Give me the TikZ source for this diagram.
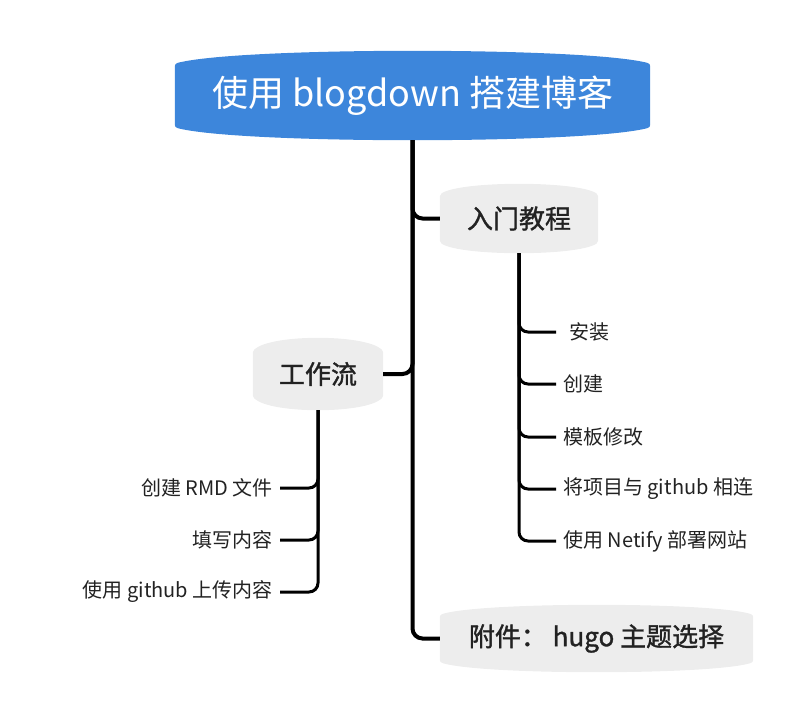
\documentclass[tikz,border=0pt]{standalone}
\usepackage{fontspec}
\setmainfont{Noto Sans CJK SC}
\newfontfamily\medfont{Noto Sans CJK SC}[FakeBold=1.3]
\usetikzlibrary{calc,backgrounds}
\definecolor{titleblue}{HTML}{3D86DB}
\definecolor{nodegray}{HTML}{EDEDED}
\definecolor{txt}{HTML}{222222}
\newcommand\bulgefill[3]{%
  \filldraw[#3, line width=7pt, line join=round] let \p1=($(#1.north west)+(3.5pt,-3.5pt)$), \p2=($(#1.south east)+(-3.5pt,3.5pt)$) in
   (\x1,{\y1-#2}) -- (\x1,{\y2+#2})
   .. controls ({\x1+(\x2-\x1)*0.13},{\y2-#2/3}) and ({\x2-(\x2-\x1)*0.13},{\y2-#2/3}) .. (\x2,{\y2+#2})
   -- (\x2,{\y1-#2})
   .. controls ({\x2-(\x2-\x1)*0.13},{\y1+#2/3}) and ({\x1+(\x2-\x1)*0.13},{\y1+#2/3}) .. (\x1,{\y1-#2}) -- cycle;}
\tikzset{
  rootbox/.style={inner sep=0pt, text=white, font=\fontsize{36pt}{40pt}\selectfont},
  topic/.style={inner sep=0pt, text=txt, font=\fontsize{26pt}{30pt}\medfont},
  leaf/.style={inner xsep=7pt, inner ysep=2pt, text=txt, font=\fontsize{20pt}{24pt}\selectfont},
  trunkline/.style={line width=4pt, black, rounded corners=10pt},
  leafline/.style={line width=3pt, black, rounded corners=9pt}
}
\begin{document}
\begin{tikzpicture}[x=1pt,y=-1pt]
\useasboundingbox (0,0) rectangle (811,705);
\node[rootbox, minimum width=475pt, minimum height=89pt] (root) at (412.5,95.5) {使用 blogdown 搭建博客};
\node[topic, minimum width=158pt, minimum height=69pt] (rumen) at (519,218.5) {入门教程};
\node[topic, minimum width=130pt, minimum height=72pt] (gzl) at (318,374) {工作流};
\node[topic, minimum width=313pt, minimum height=67pt] (fj) at (596.5,638.5) {附件： hugo 主题选择};

\node[leaf, anchor=west] (a1) at (556,332) {\hspace*{6pt}安装};
\node[leaf, anchor=west] (a2) at (556,384) {创建};
\node[leaf, anchor=west] (a3) at (556,437) {模板修改};
\node[leaf, anchor=west] (a4) at (556,489) {将项目与 github 相连};
\node[leaf, anchor=west] (a5) at (556,541) {使用 Netify 部署网站};

\node[leaf, anchor=east] (b1) at (280,488) {创建 RMD 文件};
\node[leaf, anchor=east] (b2) at (280,540) {填写内容};
\node[leaf, anchor=east] (b3) at (280,592) {使用 github 上传内容};

\begin{pgfonlayer}{background}
\bulgefill{root}{12pt}{titleblue}
\bulgefill{rumen}{9pt}{nodegray}
\bulgefill{gzl}{11pt}{nodegray}
\bulgefill{fj}{9pt}{nodegray}
\end{pgfonlayer}

\draw[trunkline] (root.south) |- (rumen.west);
\draw[trunkline] (root.south) |- (gzl.east);
\draw[trunkline] (root.south) |- (fj.west);

\foreach \n in {a1,a2,a3,a4,a5} \draw[leafline] (rumen.south) |- (\n.west);
\foreach \n in {b1,b2,b3} \draw[leafline] (gzl.south) |- (\n.east);
\end{tikzpicture}
\end{document}
